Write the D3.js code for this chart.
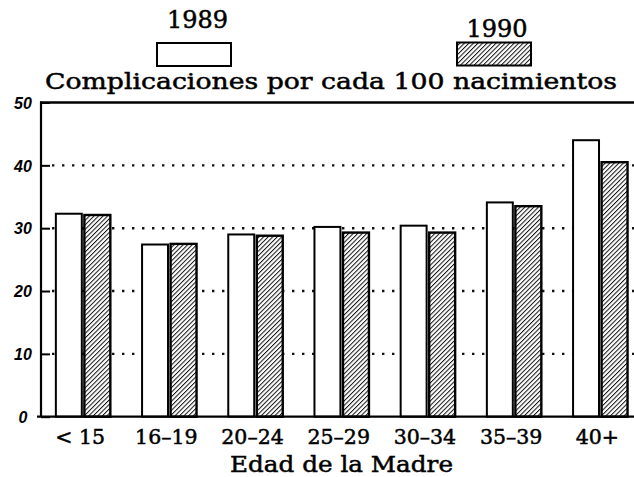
<!DOCTYPE html>
<html><head><meta charset="utf-8">
<script src="https://cdn.jsdelivr.net/npm/d3@7"></script>
<style>html,body{margin:0;padding:0;background:#fff;}svg{display:block;}</style>
</head><body>
<script>
const categories = ["< 15", "16–19", "20–24", "25–29", "30–34", "35–39", "40+"];
const seriesNames = ["1989", "1990"];
const values1989 = [32.3, 27.4, 29.0, 30.2, 30.4, 34.1, 44.0];
const values1990 = [32.1, 27.5, 28.8, 29.3, 29.3, 33.5, 40.5];
const yTicks = [0, 10, 20, 30, 40, 50];
const gridTicks = [10, 20, 30, 40];
const titleText = "Complicaciones por cada 100 nacimientos";
const xTitleText = "Edad de la Madre";

const W = 634, H = 477;
const svg = d3.select("body").append("svg").attr("width", W).attr("height", H);
const defs = svg.append("defs");
const pat = defs.append("pattern").attr("id", "hatch").attr("patternUnits", "userSpaceOnUse")
  .attr("width", 3.2).attr("height", 3.2).attr("patternTransform", "rotate(45)");
pat.append("rect").attr("width", 3.2).attr("height", 3.2).attr("fill", "#fff");
pat.append("line").attr("x1", 0).attr("y1", 0).attr("x2", 0).attr("y2", 3.2)
  .attr("stroke", "#111").attr("stroke-width", 2.0);

const serif = "'DejaVu Serif', 'Liberation Serif', serif";

const y = d3.scaleLinear().domain([0, 50]).range([416.7, 102.5]);
const x = d3.scaleBand().domain(categories).range([40, 643.4]).paddingInner(0.368).paddingOuter(0.184);
const xs = d3.scaleBand().domain(seriesNames).range([0, x.bandwidth()]).paddingInner(0.09);

// gridlines
svg.append("g").selectAll("line").data(gridTicks).join("line")
  .attr("x1", 52).attr("x2", W).attr("y1", d => y(d)).attr("y2", d => y(d))
  .attr("stroke", "#111").attr("stroke-width", 2.4).attr("stroke-dasharray", "2.4,7.6");

// bars
const rows = categories.map((c, i) => ({c, v: [values1989[i], values1990[i]]}));
const g = svg.append("g").selectAll("g").data(rows).join("g")
  .attr("transform", d => `translate(${x(d.c)},0)`);
g.selectAll("rect").data(d => d.v.map((v, j) => ({s: seriesNames[j], v}))).join("rect")
  .attr("x", d => xs(d.s)).attr("width", xs.bandwidth())
  .attr("y", d => y(d.v)).attr("height", d => y(0) - y(d.v))
  .attr("fill", d => d.s === "1989" ? "#fff" : "url(#hatch)")
  .attr("stroke", "#000").attr("stroke-width", d => d.s === "1989" ? 2 : 2.4);

// axes frame
const frame = svg.append("g").attr("stroke", "#000").attr("fill", "none");
frame.append("line").attr("x1", 41).attr("x2", 41).attr("y1", y(50) - 1).attr("y2", y(0)).attr("stroke-width", 2.2);
frame.append("line").attr("x1", 40).attr("x2", W).attr("y1", y(50)).attr("y2", y(50)).attr("stroke-width", 2.4);
frame.append("line").attr("x1", 37).attr("x2", W).attr("y1", y(0)).attr("y2", y(0)).attr("stroke-width", 2.2);

// y axis via d3
const yAxis = d3.axisLeft(y).tickValues(yTicks).tickSize(-9).tickPadding(8).tickFormat(d3.format("d"));
const ya = svg.append("g").attr("transform", "translate(41,0)").call(yAxis);
ya.select(".domain").remove();
ya.selectAll(".tick line").attr("stroke", "#000").attr("stroke-width", 2);
ya.selectAll(".tick text").attr("font-family", "'Liberation Sans', Arial, sans-serif")
  .attr("font-weight", "bold").attr("font-style", "italic").style("font-size", "16px").attr("fill", "#000")
  .attr("text-anchor", "middle").attr("x", -18).attr("dy", "0.36em");

// x axis labels via d3
const xAxis = d3.axisBottom(x).tickSize(0).tickPadding(0);
const xa = svg.append("g").attr("transform", `translate(-3,${y(0)})`).call(xAxis);
xa.select(".domain").remove();
xa.selectAll(".tick text").attr("font-family", serif).style("font-size", "20.5px")
  .attr("fill", "#000").attr("stroke", "#000").attr("stroke-width", 0.5)
  .attr("y", 27.5).attr("dy", 0);

// titles
svg.append("text").attr("x", 331).attr("y", 89.3).attr("text-anchor", "middle")
  .attr("font-family", serif).attr("font-size", 23).attr("fill", "#000")
  .attr("stroke", "#000").attr("stroke-width", 0.5)
  .attr("textLength", 572).attr("lengthAdjust", "spacingAndGlyphs").text(titleText);
svg.append("text").attr("x", 341.5).attr("y", 471.5).attr("text-anchor", "middle")
  .attr("font-family", serif).attr("font-size", 23).attr("fill", "#000")
  .attr("stroke", "#000").attr("stroke-width", 0.5)
  .attr("textLength", 223).attr("lengthAdjust", "spacingAndGlyphs").text(xTitleText);

// legend
const legend = [
  {name: seriesNames[0], tx: 197.5, ty: 28, bx: 157, by: 43, fill: "#fff"},
  {name: seriesNames[1], tx: 497, ty: 36.7, bx: 457, by: 42.5, fill: "url(#hatch)"}
];
const lg = svg.append("g").selectAll("g").data(legend).join("g");
lg.append("text").attr("x", d => d.tx).attr("y", d => d.ty).attr("text-anchor", "middle")
  .attr("font-family", serif).attr("font-size", 24).attr("fill", "#000")
  .attr("stroke", "#000").attr("stroke-width", 0.5)
  .attr("textLength", 61).attr("lengthAdjust", "spacingAndGlyphs").text(d => d.name);
lg.append("rect").attr("x", d => d.bx).attr("y", d => d.by).attr("width", 74).attr("height", 23)
  .attr("fill", d => d.fill).attr("stroke", "#000").attr("stroke-width", 2);
</script>
</body></html>
